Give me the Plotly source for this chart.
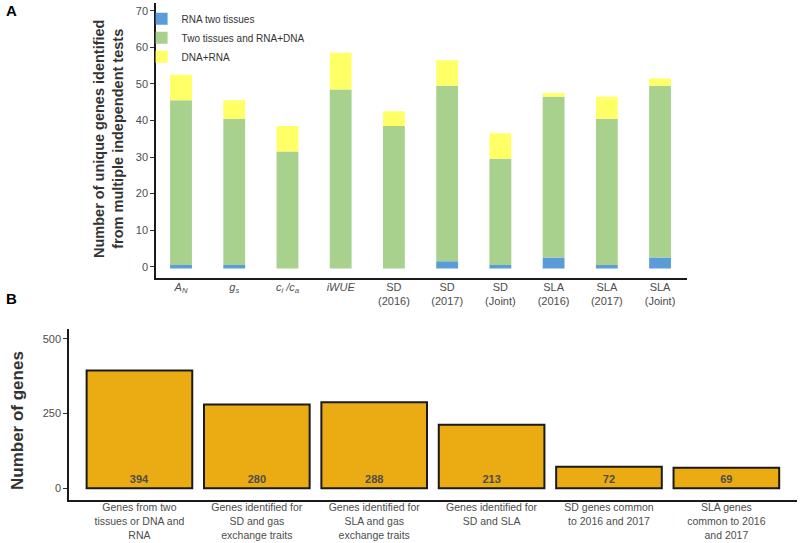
import plotly.graph_objects as go

# ---- Panel A data ----
traits = ["<i>A</i><sub><i>N</i></sub>", "<i>g</i><sub><i>s</i></sub>",
          "<i>c</i><sub><i>i</i></sub><i> /c</i><sub><i>a</i></sub>", "<i>iWUE</i>",
          "SD<br>(2016)", "SD<br>(2017)", "SD<br>(Joint)",
          "SLA<br>(2016)", "SLA<br>(2017)", "SLA<br>(Joint)"]
rna_two_tissues = [1, 1, 0, 0, 0, 2, 1, 3, 1, 3]
two_tissues_rna_dna = [45, 40, 32, 49, 39, 48, 29, 44, 40, 47]
dna_rna = [7, 5, 7, 10, 4, 7, 7, 1, 6, 2]
a_ticks = [0, 10, 20, 30, 40, 50, 60, 70]

# ---- Panel B data ----
groups = ["Genes from two<br>tissues or DNA and<br>RNA",
          "Genes identified for<br>SD and gas<br>exchange traits",
          "Genes identified for<br>SLA and gas<br>exchange traits",
          "Genes identified for<br>SD and SLA",
          "SD genes common<br>to 2016 and 2017",
          "SLA genes<br>common to 2016<br>and 2017"]
gene_counts = [394, 280, 288, 213, 72, 69]
b_ticks = [0, 250, 500]

BLUE, GREEN, YELLOW = "#5B9BD7", "#A9D18E", "#FFFF66"
ORANGE = "#EAAC12"
GREY = "#4d4d4d"

offset = -0.5
base_blue = [offset] * len(traits)
base_green = [offset + b for b in rna_two_tissues]
base_yellow = [offset + b + g for b, g in zip(rna_two_tissues, two_tissues_rna_dna)]
xa = list(range(len(traits)))

fig = go.Figure()
for name, vals, base, col in [("RNA two tissues", rna_two_tissues, base_blue, BLUE),
                              ("Two tissues and RNA+DNA", two_tissues_rna_dna, base_green, GREEN),
                              ("DNA+RNA", dna_rna, base_yellow, YELLOW)]:
    fig.add_trace(go.Bar(x=xa, y=vals, base=base, name=name, marker_color=col,
                         marker_line_width=0, width=0.41, xaxis="x", yaxis="y"))

xb = list(range(len(groups)))
fig.add_trace(go.Bar(x=xb, y=gene_counts, text=[str(v) for v in gene_counts],
                     textposition="inside", insidetextanchor="start",
                     textfont=dict(size=11, color=GREY, family="Liberation Sans"),
                     texttemplate="<b>%{text}</b>",
                     marker=dict(color=ORANGE, line=dict(color="#1a1a1a", width=2)),
                     width=0.9, showlegend=False, xaxis="x2", yaxis="y2"))

axis_common = dict(showgrid=False, zeroline=False, showline=True, linecolor="#1a1a1a",
                   linewidth=1.5)
fig.update_layout(
    width=800, height=543, margin=dict(l=0, r=0, t=0, b=0, autoexpand=False),
    paper_bgcolor="white", plot_bgcolor="white",
    barmode="overlay",
    font=dict(family="Liberation Sans, Arial, sans-serif", color=GREY, size=11),
    xaxis=dict(domain=[0.195, 0.859], anchor="y", range=[-0.47, 9.51],
               tickmode="array", tickvals=xa, ticktext=traits, ticks="",
               automargin=False, ticklabelstandoff=-2,
               tickfont=dict(size=11, color=GREY), **axis_common),
    yaxis=dict(domain=[0.4886, 0.995], anchor="x", range=[-3.0, 72.2],
               tickmode="array", tickvals=a_ticks, ticks="outside", ticklen=4,
               automargin=False,
               tickcolor="#333", tickwidth=1, tickfont=dict(size=11, color=GREY),
               **axis_common),
    xaxis2=dict(domain=[0.08625, 0.996], anchor="y2", range=[-0.6, 5.6],
                tickmode="array", tickvals=xb, ticktext=groups, ticks="",
                automargin=False, ticklabelstandoff=-3,
                tickfont=dict(size=10.5, color=GREY), **axis_common),
    yaxis2=dict(domain=[0.0792, 0.3936], anchor="x2", range=[-39, 532],
                tickmode="array", tickvals=b_ticks, ticks="outside", ticklen=4,
                automargin=False,
                tickcolor="#333", tickwidth=1, tickfont=dict(size=11, color=GREY),
                **axis_common),
    legend=dict(x=0.177, y=0.992, xanchor="left", yanchor="top", traceorder="normal",
                bgcolor="rgba(0,0,0,0)",
                font=dict(family="Liberation Sans Narrow, Liberation Sans, Arial", size=10, color="#333"),
                itemwidth=30, tracegroupgap=0),
    showlegend=True,
)

fig.add_annotation(text="<b>Number of unique genes identified<br>from multiple independent tests</b>",
                   xref="paper", yref="paper", x=108/800, y=1-139/543, textangle=-90,
                   xanchor="center", yanchor="middle",
                   showarrow=False, font=dict(size=14.5, color="#333"))
fig.add_annotation(text="<b>Number of genes</b>", xref="paper", yref="paper",
                   x=17/800, y=1-421/543, textangle=-90, showarrow=False,
                   xanchor="center", yanchor="middle",
                   font=dict(size=17, color="#333"))
fig.add_annotation(text="<b>A</b>", xref="paper", yref="paper", x=11/800, y=1-11/543,
                   xanchor="center", yanchor="middle",
                   showarrow=False, font=dict(size=15, color="black"))
fig.add_annotation(text="<b>B</b>", xref="paper", yref="paper", x=11/800, y=1-298/543,
                   xanchor="center", yanchor="middle",
                   showarrow=False, font=dict(size=15, color="black"))

fig.write_html("out.html", config={"displayModeBar": False},
               post_script="document.body.style.margin='0';")
